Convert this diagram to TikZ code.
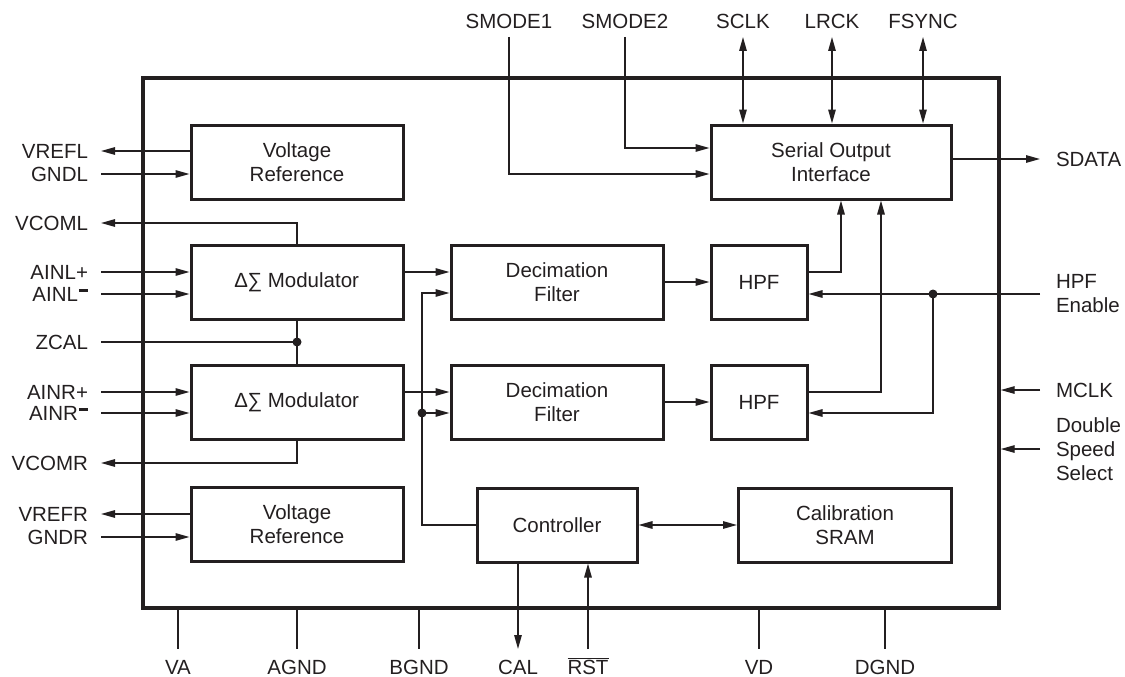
\documentclass[tikz,border=0pt]{standalone}
\usepackage{fontspec}
\setmainfont{Liberation Sans}
\usetikzlibrary{arrows.meta,positioning}
\definecolor{ink}{HTML}{231F20}
\newcommand\lbfont{\fontsize{20.5}{24}\selectfont}
\newcommand\negbar{\kern1pt\rule[10pt]{9pt}{3pt}}

\begin{document}
\begin{tikzpicture}[x=1pt, y=-1pt, color=ink, line width=1.4pt,
  >={Triangle[length=14pt,width=7.5pt]},
  block/.style={draw, line width=3pt, font=\lbfont, align=center, inner sep=0pt,
    minimum width=212pt, minimum height=74pt},
  chip/.style={draw, line width=3.4pt, minimum width=856pt, minimum height=530pt},
  lbl/.style={font=\lbfont, inner sep=0pt, text height=15pt, text depth=0pt},
  pinL/.style={lbl, anchor=east, outer xsep=13pt},
  pinR/.style={lbl, anchor=west, outer xsep=16pt},
  pinR2/.style={font=\lbfont, inner sep=0pt, align=left, anchor=west, outer xsep=16pt},
  pinT/.style={lbl, anchor=south, outer ysep=8pt},
  pinB/.style={lbl, anchor=north, outer ysep=10pt},
  dot/.style={circle, fill, inner sep=0pt, minimum size=9pt}]
  \useasboundingbox (0,0) rectangle (1125,677);

  % Chip outline
  \node[chip] (chip) at (571,343) {};

  % Blocks
  \node[block] (vrefL) at (297,162) {Voltage\\Reference};
  \node[block] (modL) at (297,282) {∆∑ Modulator};
  \node[block] (modR) at (297,402) {∆∑ Modulator};
  \node[block] (vrefR) at (297,524) {Voltage\\Reference};
  \node[block] (decL) at (557,282) {Decimation\\Filter};
  \node[block] (decR) at (557,402) {Decimation\\Filter};
  \node[block, minimum width=96pt] (hpfL) at (759,282) {HPF};
  \node[block, minimum width=96pt] (hpfR) at (759,402) {HPF};
  \node[block, minimum width=240pt] (soi) at (831,162) {Serial Output\\Interface};
  \node[block, minimum width=160pt] (ctrl) at (557,525) {Controller};
  \node[block, minimum width=213pt] (sram) at (845,525) {Calibration\\SRAM};

  % Left pins
  \node[pinL] (vrefl) at (101,151) {VREFL};
  \node[pinL] (gndl) at (101,174) {GNDL};
  \node[pinL] (vcoml) at (101,223) {VCOML};
  \node[pinL] (ainlp) at (101,272) {AINL+};
  \node[pinL] (ainlm) at (101,294) {AINL\negbar};
  \node[pinL] (zcal) at (101,342) {ZCAL};
  \node[pinL] (ainrp) at (101,392) {AINR+};
  \node[pinL] (ainrm) at (101,413) {AINR\negbar};
  \node[pinL] (vcomr) at (101,463) {VCOMR};
  \node[pinL] (vrefr) at (101,514) {VREFR};
  \node[pinL] (gndr) at (101,537) {GNDR};

  \draw[->] (vrefL.west |- vrefl) -- (vrefl.east);
  \draw[->] (gndl.east) -- (vrefL.west |- gndl);
  \draw[->] (modL.north) |- (vcoml.east);
  \draw[->] (ainlp.east) -- (modL.west |- ainlp);
  \draw[->] (ainlm.east) -- (modL.west |- ainlm);
  \draw (modL.south) -- (modR.north);
  \draw (zcal.east) -- (modL.south |- zcal);
  \node[dot] at (modL.south |- zcal) {};
  \draw[->] (ainrp.east) -- (modR.west |- ainrp);
  \draw[->] (ainrm.east) -- (modR.west |- ainrm);
  \draw[->] (modR.south) |- (vcomr.east);
  \draw[->] (vrefR.west |- vrefr) -- (vrefr.east);
  \draw[->] (gndr.east) -- (vrefR.west |- gndr);

  % Signal path
  \draw[->] (modL.east |- ainlp) -- (decL.west |- ainlp);
  \draw[->] (modR.east |- ainrp) -- (decR.west |- ainrp);
  \draw[->] (decL) -- (hpfL);
  \draw[->] (decR) -- (hpfR);
  \draw[->] (hpfL.east |- ainlp) -| ([xshift=10pt]soi.south);
  \draw[->] (hpfR.east |- ainrp) -| ([xshift=50pt]soi.south);

  % Controller
  \coordinate (cbus) at (422,413);
  \draw[->] (ctrl.west) -| (cbus) |- ([yshift=-11pt]decL.west);
  \node[dot] at (cbus) {};
  \draw[->] (cbus) -- (cbus -| decR.west);
  \draw[<->] (ctrl) -- (sram);

  % Top pins
  \node[pinT] (smode1) at (509,37) {SMODE1};
  \node[pinT] (smode2) at (625,37) {SMODE2};
  \node[pinT] (sclk) at (743,37) {SCLK};
  \node[pinT] (lrck) at (832,37) {LRCK};
  \node[pinT] (fsync) at (923,37) {FSYNC};
  \draw[->] (smode1.south) |- ([yshift=-12pt]soi.west);
  \draw[->] (smode2.south) |- ([yshift=14pt]soi.west);
  \foreach \p in {sclk,lrck,fsync}
    \draw[<->] (\p.south) -- (soi.north -| \p);

  % Right pins
  \node[pinR] (sdata) at (1040,159) {SDATA};
  \node[pinR2] (hpfen) at (1040,294) {HPF\\Enable};
  \node[pinR] (mclk) at (1040,390) {MCLK};
  \node[pinR2] (dss) at (1040,449) {Double\\Speed\\Select};
  \coordinate (endot) at (933,294);
  \draw[->] (soi.east |- sdata) -- (sdata.west);
  \draw[->] (hpfen.west) -- (hpfL.east |- hpfen);
  \node[dot] at (endot) {};
  \draw[->] (endot) |- (hpfR.east |- ainrm);
  \draw[->] (mclk.west) -- (chip.east |- mclk);
  \draw[->] (dss.west) -- (chip.east |- dss);

  % Bottom pins
  \node[pinB] (va) at (178,649) {VA};
  \node[pinB] (agnd) at (297,649) {AGND};
  \node[pinB] (bgnd) at (419,649) {BGND};
  \node[pinB] (cal) at (518,649) {CAL};
  \node[pinB] (rst) at (588,649) {$\overline{\mbox{RST}}$};
  \node[pinB] (vd) at (759,649) {VD};
  \node[pinB] (dgnd) at (885,649) {DGND};
  \foreach \p in {va,agnd,bgnd,vd,dgnd}
    \draw (chip.south -| \p) -- (\p.north);
  \draw[->] (ctrl.south -| cal) -- (cal.north);
  \draw[->] (rst.north) -- (ctrl.south -| rst);
\end{tikzpicture}
\end{document}
